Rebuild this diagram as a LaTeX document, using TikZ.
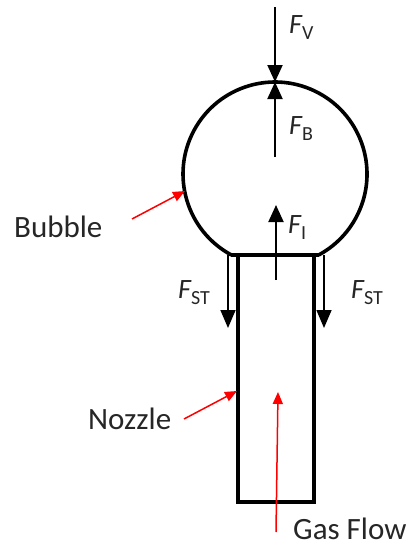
\documentclass[tikz,border=0pt]{standalone}
\usepackage{fontspec}
\setmainfont{Carlito}
\usetikzlibrary{arrows.meta}
\newcommand{\fsub}[1]{{\itshape F}\raisebox{-0.22em}{\fontsize{20}{20}\selectfont #1}}
\begin{document}
\begin{tikzpicture}[x=1pt,y=-1pt,
  wall/.style={line width=3.6pt},
  force/.style={line width=2pt,-{Triangle[length=17pt,width=15pt]}},
  thinforce/.style={line width=1.6pt,-{Triangle[length=18pt,width=15pt]}},
  pointer/.style={red,line width=1.5pt,-{Triangle[length=12pt,width=10pt]}},
  lbl/.style={font=\fontsize{31}{38}\selectfont, inner sep=0pt, text=black!85},
  flbl/.style={font=\fontsize{28}{34}\selectfont, inner sep=0pt, text=black!85}]
\useasboundingbox (0,0) rectangle (416,546);
% bubble
\coordinate (c) at (275,174);
\coordinate (bl) at (231.4,255);
\coordinate (br) at (318.6,255);
\draw[wall] (bl) arc[start angle=118.3, end angle=421.7, radius=92];
% nozzle
\draw[wall] (bl) -- (br);
\draw[wall] (238,255) -- (238,502) -- (314,502) -- (314,255);
% forces
\coordinate (top) at (275,82);
\coordinate (fvs) at (275,7);
\coordinate (fbs) at (275,157);
\draw[force] (fvs) -- (top);
\draw[force] (fbs) -- (top);
\coordinate (fis) at (276,280);
\coordinate (fit) at (276,205);
\draw[force] (fis) -- (fit);
\coordinate (stl) at (228,255);
\coordinate (stlt) at (228,328);
\coordinate (str) at (324,255);
\coordinate (strt) at (324,328);
\draw[thinforce] (stl) -- (stlt);
\draw[thinforce] (str) -- (strt);
% force labels
\node[flbl,anchor=base west] (lfv) at (289,33) {\fsub{V}};
\node[flbl,anchor=base west] (lfb) at (289,134) {\fsub{B}};
\node[flbl,anchor=base west] (lfi) at (288,233) {\fsub{I}};
\node[flbl,anchor=base west] (lstl) at (178,298) {\fsub{ST}};
\node[flbl,anchor=base west] (lstr) at (351,298) {\fsub{ST}};
% text labels
\node[lbl,anchor=base west] (bub) at (14,237) {Bubble};
\node[lbl,anchor=base west] (noz) at (88,429) {Nozzle};
\node[lbl,anchor=base west] (gas) at (293,539) {Gas Flow};
\coordinate (bubp) at (185,191);
\coordinate (nozp) at (237,391);
\coordinate (gasp) at (278,392);
\draw[pointer] (132,219) -- (bubp);
\draw[pointer] (184,419) -- (nozp);
\draw[pointer] (276,532) -- (gasp);
\end{tikzpicture}
\end{document}
